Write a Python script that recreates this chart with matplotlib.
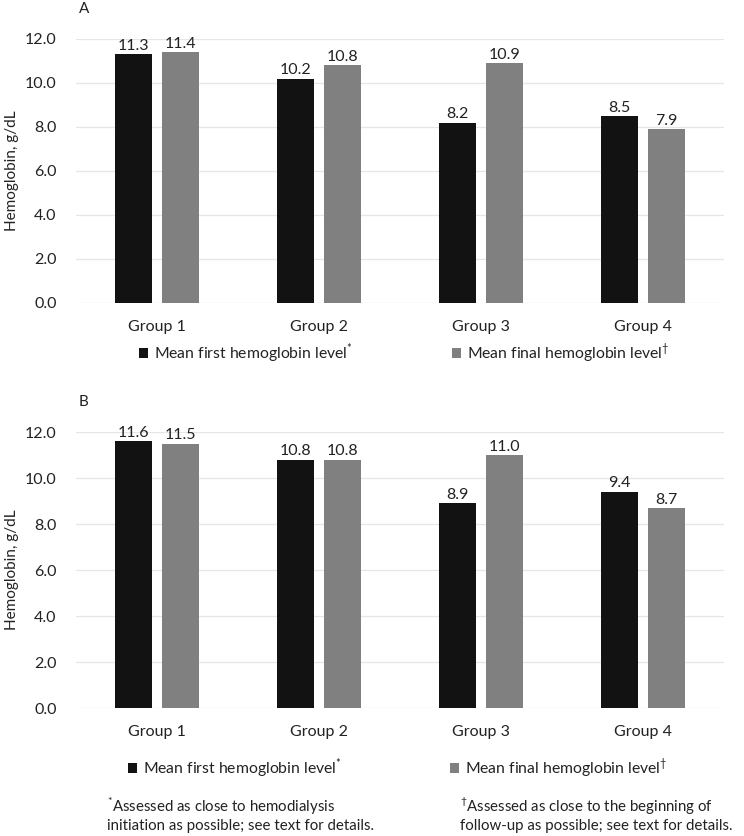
import numpy as np
import matplotlib
matplotlib.use("Agg")
import matplotlib.pyplot as plt

plt.rcParams['font.family'] = ['Lato', 'DejaVu Sans']
plt.rcParams['mathtext.fontset'] = 'custom'
plt.rcParams['mathtext.rm'] = 'Lato'

groups = ["Group 1", "Group 2", "Group 3", "Group 4"]
first_a = [11.3, 10.2, 8.2, 8.5]
final_a = [11.4, 10.8, 10.9, 7.9]
first_b = [11.6, 10.8, 8.9, 9.4]
final_b = [11.5, 10.8, 11.0, 8.7]
yticks = [0, 2, 4, 6, 8, 10, 12]

lab_first = "Mean first hemoglobin level$^{*}$"
lab_final = "Mean final hemoglobin level$^{†}$"

W, H = 744, 836
fig = plt.figure(figsize=(W / 100, H / 100), dpi=100)

black = "#121212"
gray = "#808080"
txt = "#222222"
x = np.arange(len(groups))
bw = 0.225
off = 0.145


def panel(rect, first, final):
    ax = fig.add_axes(rect)
    b1 = ax.bar(x - off, first, bw, color=black)
    b2 = ax.bar(x + off, final, bw, color=gray)
    ax.bar_label(b1, labels=[f"{v:.1f}" for v in first], padding=1, fontsize=11.5, color=txt)
    ax.bar_label(b2, labels=[f"{v:.1f}" for v in final], padding=1, fontsize=11.5, color=txt)
    ax.set_xlim(-0.5, 3.5)
    ax.set_ylim(0, 12)
    ax.set_yticks(yticks)
    ax.set_yticklabels([f"{v:.1f}" for v in yticks])
    ax.set_xticks(x)
    ax.set_xticklabels(groups)
    ax.tick_params(length=0, labelsize=11.5, colors=txt)
    ax.tick_params(axis="x", pad=12)
    ax.tick_params(axis="y", pad=14)
    ax.grid(axis="y", color="#e6e6e6", lw=0.9)
    ax.set_axisbelow(True)
    for s in ax.spines.values():
        s.set_visible(False)
    ax.set_ylabel("Hemoglobin, g/dL", fontsize=11, color=txt)
    ax.yaxis.set_label_coords(-57 / 648, 0.5)
    return ax, b1, b2


axA, a1, a2 = panel([76 / W, 1 - 303 / H, 648 / W, 264 / H], first_a, final_a)
axB, c1, c2 = panel([76 / W, 1 - 708 / H, 648 / W, 276 / H], first_b, final_b)

fig.text(79 / W, 1 - 9 / H, "A", fontsize=11, va="center", color=txt)
fig.text(79 / W, 1 - 402 / H, "B", fontsize=11, va="center", color=txt)

# legends placed by hand
for handle, lab, lx, ly in [(a1, lab_first, 139, 353), (a2, lab_final, 452, 353),
                            (c1, lab_first, 128, 768), (c2, lab_final, 450, 768)]:
    fig.legend([handle], [lab], loc="center left", bbox_to_anchor=(lx / W, 1 - ly / H),
               frameon=False, fontsize=11.3, handlelength=0.6, handleheight=0.6,
               handletextpad=0.35, borderpad=0, borderaxespad=0, labelcolor=txt)

fig.text(107 / W, 1 - 814 / H,
         "$^{*}$Assessed as close to hemodialysis\ninitiation as possible; see text for details.",
         fontsize=10.8, va="center", ha="left", color=txt, linespacing=1.25)
fig.text(460 / W, 1 - 814 / H,
         "$^{†}$Assessed as close to the beginning of\nfollow-up as possible; see text for details.",
         fontsize=10.8, va="center", ha="left", color=txt, linespacing=1.25)

fig.savefig("out.png", dpi=100)
